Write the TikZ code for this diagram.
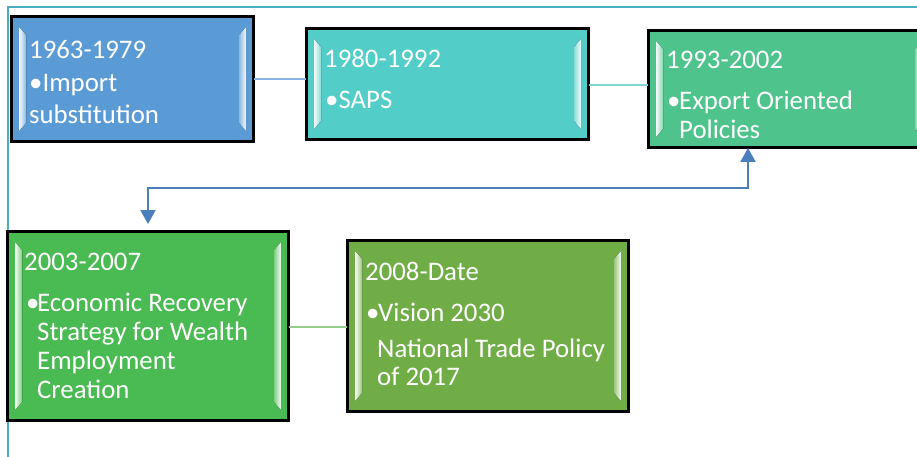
\documentclass[tikz,border=0pt]{standalone}
\usepackage{fontspec}
\setmainfont{Carlito}
\usetikzlibrary{calc,arrows.meta}
\definecolor{cA}{RGB}{91,155,213}
\definecolor{cB}{RGB}{82,205,200}
\definecolor{cC}{RGB}{78,196,140}
\definecolor{cD}{RGB}{74,186,82}
\definecolor{cE}{RGB}{112,173,71}
\definecolor{frameC}{RGB}{75,172,198}
\definecolor{arrowC}{RGB}{74,126,187}
\definecolor{lnA}{RGB}{140,180,226}
\definecolor{lnB}{RGB}{125,215,210}
\definecolor{lnC}{RGB}{150,205,140}
\newcommand\bevelsides[2]{%
  \fill[left color=white!95!#2, right color=white!30!#2]
    ($(#1.north west)+(8,11)$) -- ($(#1.north west)+(15,19)$) --
    ($(#1.south west)+(15,-19)$) -- ($(#1.south west)+(8,-11)$) -- cycle;
  \fill[left color=white!30!#2, right color=white!95!#2]
    ($(#1.north east)+(-8,11)$) -- ($(#1.north east)+(-15,19)$) --
    ($(#1.south east)+(-15,-19)$) -- ($(#1.south east)+(-8,-11)$) -- cycle;
}
\begin{document}
\begin{tikzpicture}[x=1pt,y=-1pt,
  box/.style={draw=black, line width=2pt, anchor=north west, inner sep=0pt},
  txt/.style={anchor=base west, inner sep=0pt, text=white, font=\fontsize{26.8}{31}\selectfont},
  conn/.style={line width=2pt}]
\useasboundingbox (0,0) rectangle (917,457);
\fill[white] (0,0) rectangle (917,457);
% frame
\draw[frameC, line width=2pt] (8,457) -- (8,7) -- (930,7);
% boxes
\node[box, fill=cA, minimum width=241pt, minimum height=124pt] (b1) at (11,16) {};
\node[box, fill=cB, minimum width=281pt, minimum height=110pt] (b2) at (306,28) {};
\node[box, fill=cC, minimum width=280pt, minimum height=116pt] (b3) at (648,30) {};
\node[box, fill=cD, minimum width=280pt, minimum height=188pt] (b4) at (7,231) {};
\node[box, fill=cE, minimum width=280pt, minimum height=170pt] (b5) at (347,240) {};
\bevelsides{b1}{cA}
\bevelsides{b2}{cB}
\bevelsides{b3}{cC}
\bevelsides{b4}{cD}
\bevelsides{b5}{cE}
\foreach \b in {b1,b2,b3,b4,b5}{\draw[black, line width=2pt] (\b.north west) rectangle (\b.south east);}
% connectors
\draw[lnA, conn] (b1.east) -- (b1.east -| b2.west);
\draw[lnB, conn] ($(b2.east)+(0,1)$) -- ($(b2.east -| b3.west)+(0,1)$);
\draw[lnC, conn] ($(b4.east)+(0,1)$) -- ($(b4.east -| b5.west)+(0,1)$);
\coordinate (elb) at ($(b3.south west)+(100,40)$);
\coordinate (low) at ($(b4.north)+(0,-7)$);
\draw[arrowC, conn, {Triangle[width=15pt,length=14pt]}-{Triangle[width=15pt,length=14pt]}]
  (low) |- (elb) -- (elb |- b3.south);
% texts
\node[txt] (t1a) at (29,59) {1963-1979};
\node[txt] (t1b) at (29,92) {•Import};
\node[txt] (t1c) at (29,124) {substitution};
\node[txt] (t2a) at (324,68) {1980-1992};
\node[txt] (t2b) at (325,109) {•SAPS};
\node[txt] (t3a) at (666,69) {1993-2002};
\node[txt] (t3b) at (667,110) {•};
\node[txt] (t3c) at (679,110) {Export Oriented};
\node[txt] (t3d) at (679,139) {Policies};
\node[txt] (t4a) at (24,270) {2003-2007};
\node[txt] (t4b) at (26,311) {•};
\node[txt] (t4c) at (37,311) {Economic Recovery};
\node[txt] (t4d) at (37,340) {Strategy for Wealth};
\node[txt] (t4e) at (37,369) {Employment};
\node[txt] (t4f) at (37,398) {Creation};
\node[txt] (t5a) at (365,280) {2008-Date};
\node[txt] (t5b) at (366,321) {•};
\node[txt] (t5c) at (378,321) {Vision 2030};
\node[txt] (t5d) at (377,357) {National Trade Policy};
\node[txt] (t5e) at (377,385) {of 2017};
\end{tikzpicture}
\end{document}
